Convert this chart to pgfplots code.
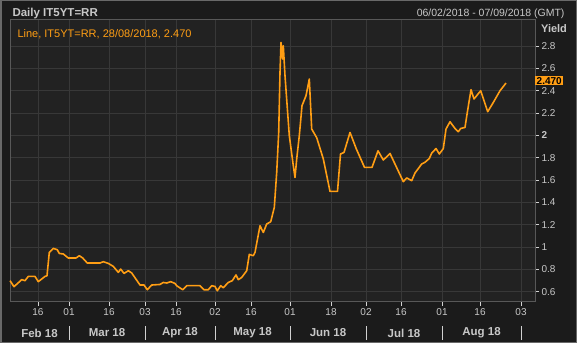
\documentclass[border=0pt]{standalone}
\usepackage{pgfplots}
\pgfplotsset{compat=1.18}
\usepackage{fontspec}
\setmainfont{Liberation Sans}
\definecolor{bgout}{RGB}{27,27,27}
\definecolor{bgplot}{RGB}{34,34,34}
\definecolor{gridc}{RGB}{56,56,56}
\definecolor{framec}{RGB}{88,88,88}
\definecolor{txt}{RGB}{200,200,200}
\definecolor{orng}{RGB}{255,158,20}
\begin{document}
\begin{tikzpicture}[x=1pt,y=1pt]
\fill[bgout] (0,0) rectangle (577,343);
\draw[framec!90!white, line width=1.5pt] (0.75,0.75) rectangle (576.25,342.25);
\begin{axis}[
  at={(10,37)}, anchor=south west, scale only axis,
  width=525pt, height=282pt,
  xmin=10, xmax=535, ymin=0.5104, ymax=3.0375,
  axis background/.style={fill=bgplot},
  axis line style={framec, line width=0.8pt},
  grid=major, grid style={gridc, line width=0.7pt},
  xtick={38,69,109,145,176,215,251,290,331,366,401,442,480,521},
  xticklabels={16,01,16,03,16,02,16,01,18,02,16,01,16,03},
  ytick={0.6,0.8,1,1.2,1.4,1.6,1.8,2,2.2,2.4,2.6,2.8},
  yticklabels={0.6,0.8,1,1.2,1.4,1.6,1.8,\textbf{2},2.2,2.4,2.6,2.8},
  xtick pos=bottom, ytick pos=right, yticklabel pos=right,
  tick align=outside, major tick length=4pt,
  tick style={txt!80, line width=0.7pt},
  xticklabel style={text=txt, font=\fontsize{10}{12}\selectfont, yshift=1pt},
  yticklabel style={text=txt, font=\fontsize{10}{12}\selectfont, anchor=west, xshift=-1pt},
  /pgf/number format/assume math mode=true,
  clip=false,
]
\addplot[orng, line width=1.6pt, line join=round] table {
x y
10 0.699
14 0.645
21.7 0.708
25 0.699
28.3 0.737
35 0.737
38.3 0.690
45 0.737
47 0.743
49.3 0.952
53.3 0.988
57.3 0.976
59.3 0.943
63.3 0.938
68.3 0.902
76 0.902
79.3 0.923
82.7 0.902
87.3 0.857
100 0.857
103.3 0.869
108.3 0.854
113.3 0.827
118.3 0.773
120.7 0.803
124 0.764
128.3 0.788
131.7 0.768
140 0.660
144 0.660
147.3 0.618
151.7 0.660
160 0.665
163.3 0.683
166.7 0.678
170.7 0.690
175 0.674
176.7 0.654
182.7 0.618
186.7 0.654
200 0.654
204 0.618
208.3 0.618
211.7 0.654
215 0.647
217.3 0.609
220.7 0.654
223.3 0.636
228.3 0.683
232.3 0.699
236 0.750
238.3 0.708
241.7 0.728
246.7 0.788
249.3 0.934
253.3 0.923
255 0.952
260 1.191
263.3 1.131
266.7 1.207
270.7 1.227
274.3 1.355
276.7 1.669
278.7 2.027
280 2.565
281 2.834
282.7 2.685
283.3 2.804
285 2.535
289.3 1.998
293.3 1.729
295 1.624
296.7 1.789
299.3 1.998
302 2.267
306 2.356
309.3 2.506
311.7 2.058
316.7 1.980
323.3 1.790
330 1.499
337.5 1.499
340.5 1.834
344 1.848
350 2.027
356.3 1.880
364.5 1.714
372 1.714
378 1.863
383.3 1.780
390 1.839
397.3 1.700
403.3 1.586
406.7 1.620
411.7 1.595
415 1.664
421.7 1.745
425 1.760
429.3 1.794
431.7 1.842
436 1.883
439.3 1.834
443.3 1.883
446 2.058
450 2.123
455 2.063
458.3 2.034
460.7 2.063
465 2.072
467.3 2.207
471 2.410
474 2.327
480.7 2.401
487.7 2.213
493.3 2.296
500 2.401
506 2.470
};
\node[fill=orng, text=black, anchor=west, inner xsep=1.5pt, inner ysep=1pt, font=\bfseries\fontsize{10}{12}\selectfont] at (axis cs:535,2.49) {2.470};
\end{axis}
\node[anchor=west, text=txt, font=\bfseries\fontsize{11.5}{13}\selectfont] at (9,329.5) {Daily IT5YT=RR};
\node[anchor=east, text=txt, font=\fontsize{10.5}{12}\selectfont] at (568,329.5) {06/02/2018 - 07/09/2018 (GMT)};
\node[anchor=west, text=orng, font=\fontsize{11}{13}\selectfont] at (14,309) {Line, IT5YT=RR, 28/08/2018, 2.470};
\node[text=txt, font=\bfseries\fontsize{11}{13}\selectfont] at (554,314) {Yield};
\foreach \sx in {69,145,215,290,366,442,521}{
  \draw[txt!85, line width=0.8pt] (\sx,3) -- (\sx,17);
}
\foreach \mx/\ml in {39.5/Feb 18,107/Mar 18,180/Apr 18,252.5/May 18,328/Jun 18,404/Jul 18,481.5/Aug 18}{
  \node[text=txt, font=\bfseries\fontsize{11.5}{13}\selectfont] at (\mx,10) {\ml};
}
\end{tikzpicture}
\end{document}
